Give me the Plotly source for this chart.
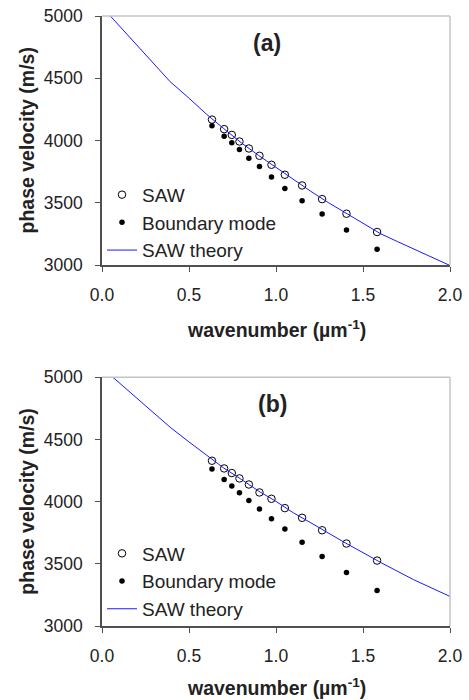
import plotly.graph_objects as go

# ---------------- data ----------------
k_points = [0.632, 0.702, 0.746, 0.790, 0.844, 0.905, 0.974, 1.051, 1.150, 1.265, 1.405, 1.581]

saw_a = [4168, 4091, 4045, 3992, 3936, 3877, 3805, 3725, 3639, 3529, 3412, 3265]
bnd_a = [4118, 4035, 3981, 3928, 3858, 3791, 3706, 3615, 3516, 3409, 3281, 3126]

saw_b = [4329, 4267, 4230, 4187, 4138, 4074, 4023, 3948, 3870, 3770, 3663, 3526]
bnd_b = [4262, 4179, 4125, 4071, 4009, 3940, 3862, 3781, 3674, 3558, 3430, 3285]

theory_a_k = [0.048, 0.2, 0.392, 0.5, 0.6, 0.7, 0.8, 0.9, 1.0, 1.1, 1.2, 1.3, 1.4, 1.5, 1.6, 1.7, 1.8, 1.9, 2.0, 2.03]
theory_a_v = [5000, 4770, 4472, 4340, 4212, 4095, 3982, 3880, 3782, 3685, 3592, 3502, 3418, 3335, 3252, 3187, 3124, 3060, 2995, 2977]

theory_b_k = [0.048, 0.2, 0.392, 0.5, 0.6, 0.7, 0.8, 0.9, 1.0, 1.1, 1.2, 1.3, 1.4, 1.5, 1.6, 1.79, 2.0, 2.04]
theory_b_v = [5018, 4832, 4598, 4480, 4372, 4270, 4180, 4085, 4002, 3910, 3830, 3745, 3667, 3590, 3512, 3373, 3237, 3212]

x_ticks = [0.0, 0.5, 1.0, 1.5, 2.0]
y_ticks = [3000, 3500, 4000, 4500, 5000]
panel_labels = ["(a)", "(b)"]
names = ["SAW", "Boundary mode", "SAW theory"]

# ---------------- figure ----------------
FONT = "Liberation Sans, Arial, sans-serif"
BLUE = "#1a1aff"
fig = go.Figure()

panels = [
    ("x", "y", "legend", saw_a, bnd_a, theory_a_k, theory_a_v),
    ("x2", "y2", "legend2", saw_b, bnd_b, theory_b_k, theory_b_v),
]
for i, (xa, ya, lg, saw, bnd, tk, tv) in enumerate(panels):
    fig.add_trace(go.Scatter(x=k_points, y=saw, mode="markers", name=names[0],
                             xaxis=xa, yaxis=ya, legend=lg, legendgroup=f"s{i}",
                             marker=dict(symbol="circle-open", size=7.5, color="black",
                                         line=dict(width=1, color="black")),
                             cliponaxis=False))
    fig.add_trace(go.Scatter(x=k_points, y=bnd, mode="markers", name=names[1],
                             xaxis=xa, yaxis=ya, legend=lg, legendgroup=f"b{i}",
                             marker=dict(symbol="circle", size=5.5, color="black"),
                             cliponaxis=False))
    fig.add_trace(go.Scatter(x=tk, y=tv, mode="lines", name=names[2],
                             xaxis=xa, yaxis=ya, legend=lg, legendgroup=f"t{i}",
                             line=dict(color=BLUE, width=1)))

axis_common = dict(showgrid=False, zeroline=False, showline=True, linecolor="#505050",
                   linewidth=1.5, ticks="outside", ticklen=5, tickcolor="#505050",
                   tickwidth=1, automargin=False,
                   tickfont=dict(family=FONT, size=17.5, color="#222"))

top_dom = [0.5918, 1.0]
bot_dom = [0.0, 0.4077]

fig.update_layout(
    width=469, height=700,
    margin=dict(l=102, r=19, t=16, b=74),
    paper_bgcolor="white", plot_bgcolor="white",
    showlegend=True,
    xaxis=dict(domain=[0, 1], range=[0, 2], tickvals=x_ticks, tickformat=".1f",
               anchor="y", ticklabelstandoff=8, **axis_common),
    yaxis=dict(domain=top_dom, range=[3000, 5000], tickvals=y_ticks, anchor="x",
               ticklabelstandoff=9, **axis_common),
    xaxis2=dict(domain=[0, 1], range=[0, 2], tickvals=x_ticks, tickformat=".1f",
                anchor="y2", ticklabelstandoff=8, **axis_common),
    yaxis2=dict(domain=bot_dom, range=[3000, 5000], tickvals=y_ticks, anchor="x2",
                ticklabelstandoff=9, **axis_common),
    legend=dict(x=0.0, xanchor="left", y=0.738, yanchor="top",
                bgcolor="rgba(0,0,0,0)", tracegroupgap=0,
                font=dict(family=FONT, size=19, color="#222")),
    legend2=dict(x=0.0, xanchor="left", y=0.150, yanchor="top",
                 bgcolor="rgba(0,0,0,0)", tracegroupgap=0,
                 font=dict(family=FONT, size=19, color="#222")),
)

# top/right light border
for xr, yr in (("x domain", "y domain"), ("x2 domain", "y2 domain")):
    fig.add_shape(type="line", xref=xr, yref=yr, x0=0, x1=1, y0=1, y1=1,
                  line=dict(color="#c4c4c4", width=1.5))
    fig.add_shape(type="line", xref=xr, yref=yr, x0=1, x1=1, y0=0, y1=1,
                  line=dict(color="#c4c4c4", width=1.5))

# panel labels and axis titles
for i, (xr, yr) in enumerate((("x domain", "y domain"), ("x2 domain", "y2 domain"))):
    fig.add_annotation(text=f"<b>{panel_labels[i]}</b>", xref=xr, yref=yr,
                       x=0.474 if i == 0 else 0.49, y=1, yshift=-27, yanchor="middle",
                       showarrow=False, font=dict(family=FONT, size=23, color="#222"))
    fig.add_annotation(text="<b>wavenumber (µm<sup>-1</sup>)</b>", xref=xr, yref=yr,
                       x=0.5, y=0, yshift=-64 if i == 0 else -61, yanchor="middle",
                       showarrow=False,
                       font=dict(family=FONT, size=19.5, color="#222"))
    fig.add_annotation(text="<b>phase velocity (m/s)</b>", xref=xr, yref=yr,
                       x=0, xshift=-75, y=0.5, xanchor="center", yanchor="middle",
                       textangle=-90, showarrow=False,
                       font=dict(family=FONT, size=19.5, color="#222"))

fig.write_html("out.html", config={"displayModeBar": False},
               post_script="document.body.style.margin='0';document.body.style.overflow='hidden';")
